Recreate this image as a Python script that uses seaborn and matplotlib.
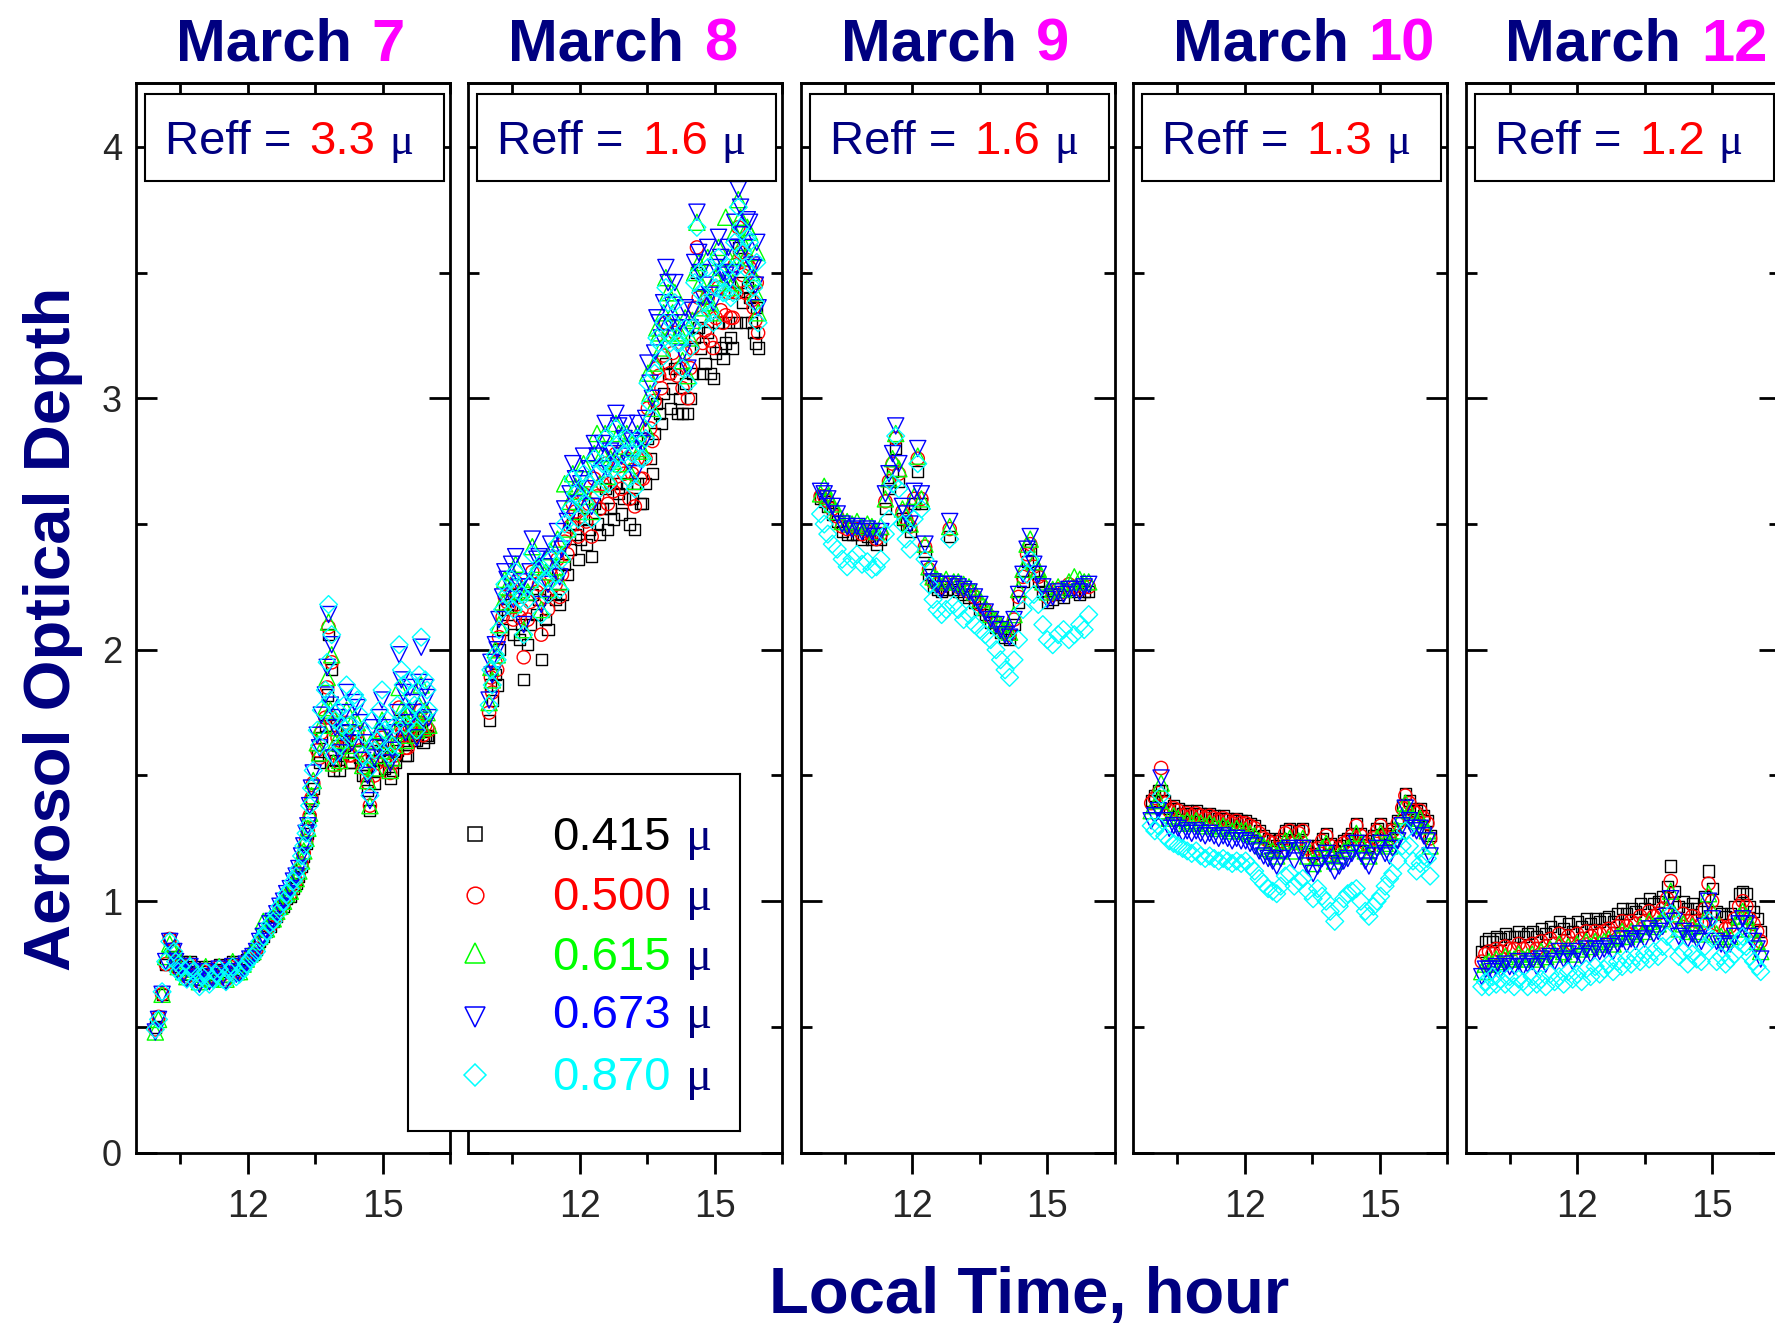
import matplotlib
matplotlib.use("Agg")
import matplotlib.pyplot as plt
from matplotlib.patches import Rectangle
from matplotlib.ticker import FixedLocator, MultipleLocator
import seaborn as sns

# ---------------------------------------------------------------- data
days = ["7", "8", "9", "10", "12"]
reff_values = ["3.3", "1.6", "1.6", "1.3", "1.2"]
wavelengths = ["0.415", "0.500", "0.615", "0.673", "0.870"]
x_major_ticks = [12, 15]
x_minor_ticks = [10.5, 13.5, 16.5]

# March 7
hours_mar07 = [9.95, 10.02, 10.10, 10.18, 10.27, 10.36, 10.40, 10.46, 10.52, 10.58,
               10.65, 10.72, 10.79, 10.86, 10.93, 11.00, 11.07, 11.15, 11.22, 11.30,
               11.37, 11.45, 11.52, 11.60, 11.67, 11.75, 11.82, 11.90, 11.97, 12.05,
               12.12, 12.20, 12.27, 12.35, 12.42, 12.50, 12.57, 12.65, 12.72, 12.80,
               12.87, 12.95, 13.02, 13.08, 13.14, 13.20, 13.25, 13.30, 13.34, 13.38,
               13.42, 13.46, 13.55, 13.60, 13.64, 13.73, 13.77, 13.80, 13.84, 13.87,
               13.91, 13.95, 14.00, 14.05, 14.10, 14.15, 14.20, 14.26, 14.32, 14.38,
               14.44, 14.50, 14.56, 14.62, 14.67, 14.72, 14.77, 14.82, 14.88, 14.93,
               14.99, 15.05, 15.11, 15.17, 15.22, 15.28, 15.33, 15.37, 15.42, 15.46,
               15.51, 15.56, 15.61, 15.66, 15.71, 15.76, 15.81, 15.86, 15.90, 15.95,
               15.99, 16.03]
aod415_mar07 = [0.50, 0.54, 0.63, 0.75, 0.85, 0.81, 0.78, 0.74, 0.76, 0.73,
                0.71, 0.76, 0.74, 0.72, 0.69, 0.72, 0.74, 0.71, 0.71, 0.73,
                0.75, 0.72, 0.70, 0.75, 0.76, 0.73, 0.73, 0.75, 0.77, 0.78,
                0.79, 0.81, 0.84, 0.86, 0.88, 0.90, 0.92, 0.94, 0.97, 0.98,
                1.01, 1.02, 1.05, 1.07, 1.10, 1.14, 1.18, 1.23, 1.27, 1.33,
                1.40, 1.45, 1.58, 1.55, 1.65, 1.70, 1.82, 2.06, 1.70, 1.92,
                1.52, 1.56, 1.62, 1.52, 1.58, 1.62, 1.68, 1.55, 1.55, 1.64,
                1.64, 1.57, 1.50, 1.50, 1.44, 1.36, 1.56, 1.47, 1.52, 1.60,
                1.62, 1.53, 1.56, 1.49, 1.52, 1.55, 1.60, 1.72, 1.66, 1.64,
                1.58, 1.58, 1.66, 1.65, 1.64, 1.64, 1.68, 1.70, 1.63, 1.66,
                1.66, 1.65]
aod500_mar07 = [0.49, 0.54, 0.63, 0.75, 0.85, 0.81, 0.77, 0.73, 0.75, 0.72,
                0.70, 0.75, 0.73, 0.71, 0.68, 0.72, 0.73, 0.70, 0.70, 0.72,
                0.74, 0.71, 0.69, 0.74, 0.75, 0.72, 0.72, 0.74, 0.76, 0.78,
                0.79, 0.81, 0.84, 0.86, 0.88, 0.90, 0.92, 0.94, 0.97, 0.99,
                1.02, 1.03, 1.06, 1.08, 1.11, 1.15, 1.19, 1.24, 1.28, 1.34,
                1.41, 1.47, 1.60, 1.57, 1.67, 1.73, 1.85, 2.09, 1.73, 1.95,
                1.54, 1.59, 1.65, 1.55, 1.61, 1.65, 1.71, 1.58, 1.58, 1.67,
                1.67, 1.60, 1.53, 1.53, 1.47, 1.38, 1.59, 1.50, 1.55, 1.63,
                1.65, 1.56, 1.59, 1.51, 1.55, 1.58, 1.63, 1.77, 1.69, 1.68,
                1.61, 1.61, 1.69, 1.69, 1.67, 1.66, 1.71, 1.76, 1.66, 1.70,
                1.69, 1.68]
aod615_mar07 = [0.48, 0.53, 0.63, 0.78, 0.83, 0.81, 0.77, 0.74, 0.76, 0.72,
                0.70, 0.75, 0.73, 0.70, 0.68, 0.71, 0.74, 0.69, 0.70, 0.72,
                0.74, 0.71, 0.69, 0.74, 0.76, 0.72, 0.72, 0.75, 0.77, 0.79,
                0.80, 0.84, 0.86, 0.92, 0.89, 0.93, 0.93, 0.96, 0.98, 1.00,
                1.03, 1.04, 1.07, 1.09, 1.12, 1.16, 1.20, 1.25, 1.29, 1.35,
                1.42, 1.48, 1.63, 1.59, 1.70, 1.77, 1.89, 2.11, 1.76, 1.98,
                1.55, 1.63, 1.69, 1.56, 1.64, 1.70, 1.76, 1.62, 1.60, 1.73,
                1.71, 1.65, 1.54, 1.58, 1.48, 1.38, 1.64, 1.53, 1.58, 1.68,
                1.72, 1.60, 1.64, 1.52, 1.57, 1.62, 1.68, 1.85, 1.76, 1.74,
                1.64, 1.66, 1.76, 1.73, 1.71, 1.68, 1.78, 1.86, 1.69, 1.76,
                1.75, 1.70]
aod673_mar07 = [0.48, 0.53, 0.63, 0.76, 0.84, 0.80, 0.76, 0.72, 0.74, 0.71,
                0.69, 0.74, 0.72, 0.69, 0.67, 0.70, 0.72, 0.68, 0.69, 0.71,
                0.73, 0.70, 0.68, 0.72, 0.74, 0.71, 0.71, 0.73, 0.75, 0.77,
                0.78, 0.80, 0.84, 0.86, 0.88, 0.91, 0.92, 0.95, 0.98, 1.00,
                1.03, 1.05, 1.08, 1.10, 1.13, 1.18, 1.22, 1.27, 1.30, 1.38,
                1.45, 1.51, 1.66, 1.61, 1.74, 1.82, 1.93, 2.14, 1.78, 2.02,
                1.57, 1.69, 1.73, 1.59, 1.67, 1.75, 1.83, 1.67, 1.63, 1.79,
                1.77, 1.71, 1.56, 1.63, 1.50, 1.40, 1.69, 1.57, 1.61, 1.73,
                1.80, 1.65, 1.69, 1.55, 1.60, 1.67, 1.75, 1.98, 1.88, 1.83,
                1.67, 1.71, 1.85, 1.79, 1.75, 1.65, 1.87, 2.01, 1.72, 1.85,
                1.81, 1.73]
aod870_mar07 = [0.49, 0.53, 0.64, 0.76, 0.84, 0.80, 0.76, 0.72, 0.74, 0.70,
                0.69, 0.74, 0.72, 0.68, 0.66, 0.70, 0.72, 0.67, 0.69, 0.71,
                0.73, 0.69, 0.68, 0.72, 0.74, 0.70, 0.71, 0.73, 0.75, 0.77,
                0.78, 0.80, 0.84, 0.86, 0.88, 0.91, 0.92, 0.95, 0.98, 1.00,
                1.03, 1.05, 1.08, 1.10, 1.13, 1.18, 1.22, 1.27, 1.30, 1.38,
                1.45, 1.52, 1.68, 1.62, 1.76, 1.84, 1.95, 2.18, 1.80, 2.06,
                1.58, 1.72, 1.76, 1.62, 1.70, 1.78, 1.86, 1.70, 1.66, 1.82,
                1.80, 1.74, 1.58, 1.66, 1.52, 1.42, 1.72, 1.60, 1.64, 1.76,
                1.84, 1.68, 1.72, 1.58, 1.62, 1.70, 1.78, 2.02, 1.92, 1.86,
                1.70, 1.74, 1.88, 1.82, 1.78, 1.68, 1.90, 2.05, 1.74, 1.88,
                1.84, 1.76]

# March 8
hours_mar08 = [9.98, 10.02, 10.05, 10.12, 10.16, 10.20, 10.28, 10.33, 10.38, 10.48,
               10.52, 10.57, 10.66, 10.70, 10.75, 10.84, 10.89, 10.94, 11.04, 11.09,
               11.14, 11.24, 11.29, 11.35, 11.46, 11.50, 11.55, 11.60, 11.66, 11.72,
               11.78, 11.84, 11.90, 11.96, 12.02, 12.08, 12.14, 12.20, 12.26, 12.32,
               12.38, 12.44, 12.50, 12.56, 12.62, 12.68, 12.74, 12.80, 12.86, 12.92,
               12.98, 13.04, 13.10, 13.16, 13.22, 13.28, 13.34, 13.40, 13.46, 13.51,
               13.56, 13.61, 13.66, 13.71, 13.76, 13.81, 13.86, 13.91, 13.96, 14.01,
               14.06, 14.11, 14.16, 14.22, 14.28, 14.34, 14.40, 14.45, 14.50, 14.55,
               14.60, 14.64, 14.68, 14.73, 14.78, 14.84, 14.90, 14.96, 15.02, 15.08,
               15.13, 15.18, 15.24, 15.30, 15.35, 15.40, 15.44, 15.48, 15.52, 15.57,
               15.62, 15.67, 15.72, 15.77, 15.82, 15.86, 15.90, 15.93, 15.96]
aod415_mar08 = [1.72, 1.86, 1.80, 1.90, 1.86, 2.00, 2.08, 2.16, 2.14, 2.18,
                2.06, 2.22, 2.04, 2.10, 1.88, 2.02, 2.10, 2.22, 2.14, 2.20,
                1.96, 2.12, 2.08, 2.22, 2.20, 2.30, 2.18, 2.22, 2.34, 2.30,
                2.40, 2.50, 2.46, 2.36, 2.44, 2.52, 2.42, 2.48, 2.37, 2.58,
                2.50, 2.46, 2.56, 2.64, 2.48, 2.56, 2.52, 2.66, 2.62, 2.54,
                2.60, 2.66, 2.50, 2.60, 2.48, 2.66, 2.58, 2.58, 2.66, 2.84,
                2.76, 2.70, 2.86, 2.98, 2.94, 2.90, 3.02, 3.14, 3.10, 2.96,
                3.04, 3.12, 2.94, 3.00, 2.94, 3.06, 2.94, 3.00, 3.10, 3.24,
                3.50, 3.28, 3.20, 3.10, 3.14, 3.26, 3.10, 3.08, 3.18, 3.30,
                3.20, 3.16, 3.22, 3.30, 3.24, 3.20, 3.42, 3.30, 3.60, 3.46,
                3.38, 3.30, 3.44, 3.40, 3.30, 3.26, 3.22, 3.36, 3.20]
aod500_mar08 = [1.75, 1.89, 1.83, 1.95, 1.92, 2.05, 2.13, 2.21, 2.19, 2.24,
                2.12, 2.27, 2.13, 2.16, 1.97, 2.12, 2.19, 2.31, 2.23, 2.26,
                2.06, 2.21, 2.16, 2.30, 2.26, 2.36, 2.21, 2.30, 2.43, 2.38,
                2.49, 2.58, 2.55, 2.45, 2.53, 2.62, 2.51, 2.58, 2.45, 2.68,
                2.61, 2.56, 2.66, 2.74, 2.58, 2.66, 2.63, 2.78, 2.73, 2.64,
                2.70, 2.76, 2.60, 2.70, 2.57, 2.76, 2.68, 2.68, 2.76, 2.96,
                2.88, 2.83, 2.99, 3.12, 3.09, 3.04, 3.17, 3.30, 3.25, 3.10,
                3.18, 3.26, 3.09, 3.12, 3.04, 3.18, 3.00, 3.12, 3.20, 3.36,
                3.60, 3.40, 3.32, 3.22, 3.27, 3.40, 3.23, 3.20, 3.32, 3.44,
                3.35, 3.30, 3.33, 3.42, 3.32, 3.32, 3.53, 3.42, 3.68, 3.58,
                3.49, 3.42, 3.55, 3.52, 3.39, 3.36, 3.31, 3.46, 3.26]
aod615_mar08 = [1.79, 1.93, 1.88, 2.00, 1.98, 2.10, 2.19, 2.28, 2.25, 2.31,
                2.18, 2.34, 2.23, 2.24, 2.08, 2.23, 2.28, 2.41, 2.33, 2.34,
                2.16, 2.31, 2.24, 2.39, 2.33, 2.44, 2.27, 2.38, 2.66, 2.48,
                2.59, 2.70, 2.65, 2.55, 2.63, 2.74, 2.61, 2.68, 2.55, 2.78,
                2.86, 2.66, 2.78, 2.86, 2.69, 2.76, 2.75, 2.90, 2.86, 2.74,
                2.81, 2.86, 2.71, 2.80, 2.67, 2.86, 2.80, 2.79, 2.88, 3.10,
                3.02, 2.96, 3.14, 3.28, 3.26, 3.20, 3.34, 3.48, 3.42, 3.26,
                3.34, 3.42, 3.25, 3.26, 3.15, 3.32, 3.09, 3.24, 3.31, 3.50,
                3.70, 3.54, 3.46, 3.36, 3.41, 3.56, 3.38, 3.34, 3.48, 3.60,
                3.52, 3.46, 3.72, 3.56, 3.44, 3.46, 3.66, 3.56, 3.79, 3.72,
                3.62, 3.56, 3.68, 3.66, 3.50, 3.48, 3.42, 3.58, 3.34]
aod673_mar08 = [1.80, 1.95, 1.90, 2.02, 2.00, 2.12, 2.21, 2.31, 2.28, 2.34,
                2.20, 2.37, 2.25, 2.27, 2.10, 2.25, 2.31, 2.44, 2.36, 2.37,
                2.18, 2.33, 2.26, 2.42, 2.36, 2.47, 2.29, 2.40, 2.56, 2.51,
                2.62, 2.74, 2.68, 2.58, 2.66, 2.77, 2.64, 2.72, 2.57, 2.82,
                2.77, 2.70, 2.82, 2.90, 2.72, 2.79, 2.78, 2.94, 2.89, 2.77,
                2.84, 2.90, 2.74, 2.83, 2.70, 2.90, 2.83, 2.82, 2.92, 3.14,
                3.06, 3.00, 3.18, 3.32, 3.30, 3.24, 3.38, 3.52, 3.46, 3.30,
                3.37, 3.46, 3.28, 3.30, 3.18, 3.36, 3.12, 3.28, 3.35, 3.54,
                3.74, 3.58, 3.50, 3.40, 3.45, 3.60, 3.41, 3.38, 3.52, 3.64,
                3.56, 3.50, 3.49, 3.60, 3.47, 3.50, 3.70, 3.60, 3.83, 3.76,
                3.65, 3.60, 3.71, 3.70, 3.53, 3.52, 3.45, 3.62, 3.36]
aod870_mar08 = [1.78, 1.92, 1.86, 1.98, 1.96, 2.08, 2.16, 2.26, 2.22, 2.28,
                2.16, 2.31, 2.20, 2.22, 2.06, 2.20, 2.26, 2.38, 2.30, 2.32,
                2.14, 2.28, 2.22, 2.36, 2.30, 2.42, 2.24, 2.36, 2.50, 2.46,
                2.56, 2.68, 2.62, 2.52, 2.60, 2.70, 2.58, 2.66, 2.52, 2.76,
                2.70, 2.64, 2.74, 2.84, 2.66, 2.74, 2.72, 2.88, 2.82, 2.72,
                2.78, 2.84, 2.68, 2.78, 2.64, 2.84, 2.76, 2.76, 2.84, 3.06,
                2.98, 2.92, 3.10, 3.24, 3.22, 3.16, 3.30, 3.44, 3.38, 3.22,
                3.30, 3.38, 3.22, 3.22, 3.12, 3.28, 3.06, 3.20, 3.28, 3.46,
                3.68, 3.50, 3.42, 3.32, 3.38, 3.52, 3.34, 3.30, 3.44, 3.56,
                3.48, 3.42, 3.42, 3.52, 3.40, 3.42, 3.62, 3.52, 3.76, 3.68,
                3.58, 3.52, 3.64, 3.62, 3.46, 3.44, 3.38, 3.54, 3.30]

# March 9
hours_mar09 = [9.96, 10.04, 10.12, 10.22, 10.33, 10.44, 10.55, 10.66, 10.77, 10.88,
               11.00, 11.10, 11.20, 11.30, 11.40, 11.48, 11.56, 11.63, 11.70, 11.78,
               11.86, 11.95, 12.04, 12.12, 12.20, 12.28, 12.37, 12.46, 12.55, 12.65,
               12.75, 12.83, 12.92, 13.02, 13.14, 13.26, 13.38, 13.50, 13.62, 13.74,
               13.86, 13.96, 14.06, 14.16, 14.26, 14.36, 14.46, 14.55, 14.62, 14.70,
               14.80, 14.90, 15.00, 15.12, 15.24, 15.36, 15.48, 15.60, 15.72, 15.82,
               15.92]
aod415_mar09 = [2.60, 2.59, 2.57, 2.54, 2.51, 2.47, 2.46, 2.46, 2.46, 2.44,
                2.45, 2.44, 2.42, 2.44, 2.56, 2.64, 2.71, 2.80, 2.67, 2.52,
                2.50, 2.47, 2.58, 2.71, 2.58, 2.39, 2.30, 2.25, 2.24, 2.23,
                2.24, 2.45, 2.24, 2.23, 2.22, 2.21, 2.19, 2.16, 2.14, 2.11,
                2.09, 2.07, 2.05, 2.04, 2.10, 2.19, 2.27, 2.35, 2.40, 2.31,
                2.27, 2.23, 2.19, 2.20, 2.22, 2.21, 2.24, 2.23, 2.22, 2.23,
                2.23]
aod500_mar09 = [2.61, 2.61, 2.59, 2.56, 2.53, 2.49, 2.48, 2.48, 2.48, 2.46,
                2.47, 2.46, 2.44, 2.46, 2.59, 2.67, 2.74, 2.84, 2.70, 2.55,
                2.52, 2.49, 2.60, 2.76, 2.60, 2.41, 2.32, 2.27, 2.26, 2.25,
                2.26, 2.48, 2.26, 2.25, 2.24, 2.23, 2.21, 2.18, 2.16, 2.13,
                2.11, 2.09, 2.07, 2.06, 2.12, 2.21, 2.29, 2.38, 2.42, 2.33,
                2.29, 2.25, 2.21, 2.22, 2.24, 2.23, 2.26, 2.25, 2.24, 2.25,
                2.25]
aod615_mar09 = [2.62, 2.65, 2.61, 2.58, 2.55, 2.51, 2.51, 2.50, 2.51, 2.49,
                2.50, 2.49, 2.47, 2.49, 2.60, 2.68, 2.76, 2.86, 2.72, 2.56,
                2.53, 2.50, 2.61, 2.77, 2.60, 2.42, 2.33, 2.29, 2.28, 2.27,
                2.28, 2.49, 2.27, 2.27, 2.26, 2.25, 2.23, 2.20, 2.17, 2.14,
                2.12, 2.10, 2.08, 2.07, 2.14, 2.24, 2.32, 2.42, 2.44, 2.35,
                2.32, 2.27, 2.23, 2.24, 2.25, 2.24, 2.27, 2.29, 2.28, 2.27,
                2.27]
aod673_mar09 = [2.63, 2.62, 2.60, 2.57, 2.54, 2.50, 2.49, 2.48, 2.49, 2.47,
                2.48, 2.47, 2.45, 2.47, 2.62, 2.70, 2.78, 2.89, 2.74, 2.57,
                2.54, 2.50, 2.63, 2.80, 2.62, 2.42, 2.32, 2.27, 2.26, 2.24,
                2.26, 2.51, 2.26, 2.25, 2.24, 2.23, 2.21, 2.18, 2.15, 2.12,
                2.10, 2.08, 2.06, 2.05, 2.12, 2.22, 2.30, 2.40, 2.45, 2.34,
                2.30, 2.25, 2.20, 2.21, 2.23, 2.22, 2.24, 2.24, 2.23, 2.25,
                2.26]
aod870_mar09 = [2.54, 2.50, 2.46, 2.42, 2.40, 2.36, 2.33, 2.36, 2.38, 2.34,
                2.35, 2.32, 2.33, 2.36, 2.46, 2.52, 2.66, 2.85, 2.64, 2.50,
                2.44, 2.40, 2.52, 2.74, 2.56, 2.36, 2.26, 2.20, 2.16, 2.14,
                2.16, 2.44, 2.18, 2.16, 2.12, 2.14, 2.10, 2.08, 2.06, 2.04,
                2.00, 1.96, 1.92, 1.89, 1.96, 2.04, 2.16, 2.30, 2.36, 2.22,
                2.18, 2.10, 2.04, 2.02, 2.06, 2.08, 2.04, 2.06, 2.10, 2.08,
                2.14]

# March 10
hours_mar10 = [9.92, 10.00, 10.08, 10.14, 10.22, 10.32, 10.42, 10.52, 10.62, 10.72,
               10.82, 10.92, 11.02, 11.12, 11.22, 11.32, 11.42, 11.52, 11.62, 11.72,
               11.82, 11.92, 12.02, 12.12, 12.22, 12.32, 12.42, 12.52, 12.62, 12.71,
               12.80, 12.90, 13.00, 13.10, 13.20, 13.29, 13.40, 13.52, 13.62, 13.72,
               13.81, 13.90, 14.00, 14.10, 14.20, 14.29, 14.38, 14.48, 14.58, 14.68,
               14.76, 14.86, 14.94, 15.02, 15.12, 15.22, 15.29, 15.40, 15.50, 15.57,
               15.66, 15.74, 15.82, 15.90, 15.98, 16.06, 16.12]
aod415_mar10 = [1.40, 1.42, 1.44, 1.44, 1.40, 1.37, 1.38, 1.37, 1.35, 1.36,
                1.35, 1.36, 1.35, 1.34, 1.35, 1.34, 1.33, 1.34, 1.33, 1.32,
                1.33, 1.32, 1.32, 1.31, 1.30, 1.28, 1.26, 1.25, 1.24, 1.22,
                1.25, 1.28, 1.29, 1.24, 1.28, 1.29, 1.22, 1.19, 1.22, 1.25,
                1.27, 1.23, 1.20, 1.22, 1.24, 1.25, 1.27, 1.31, 1.27, 1.24,
                1.22, 1.26, 1.29, 1.31, 1.27, 1.26, 1.29, 1.32, 1.38, 1.43,
                1.40, 1.37, 1.36, 1.37, 1.34, 1.32, 1.26]
aod500_mar10 = [1.39, 1.41, 1.43, 1.53, 1.39, 1.36, 1.37, 1.36, 1.34, 1.35,
                1.34, 1.35, 1.34, 1.33, 1.34, 1.33, 1.32, 1.33, 1.32, 1.31,
                1.32, 1.31, 1.31, 1.30, 1.29, 1.27, 1.25, 1.24, 1.23, 1.21,
                1.24, 1.27, 1.28, 1.23, 1.27, 1.28, 1.21, 1.18, 1.21, 1.24,
                1.26, 1.22, 1.19, 1.21, 1.23, 1.24, 1.26, 1.30, 1.26, 1.23,
                1.21, 1.25, 1.28, 1.30, 1.26, 1.25, 1.28, 1.31, 1.37, 1.42,
                1.39, 1.36, 1.35, 1.36, 1.33, 1.31, 1.25]
aod615_mar10 = [1.36, 1.38, 1.40, 1.47, 1.36, 1.33, 1.34, 1.33, 1.31, 1.32,
                1.31, 1.32, 1.31, 1.30, 1.31, 1.30, 1.29, 1.30, 1.29, 1.28,
                1.29, 1.28, 1.28, 1.27, 1.26, 1.24, 1.22, 1.21, 1.20, 1.18,
                1.21, 1.24, 1.25, 1.20, 1.24, 1.25, 1.18, 1.15, 1.18, 1.21,
                1.23, 1.19, 1.16, 1.18, 1.20, 1.21, 1.23, 1.27, 1.23, 1.20,
                1.18, 1.22, 1.25, 1.27, 1.23, 1.22, 1.25, 1.28, 1.34, 1.39,
                1.36, 1.33, 1.32, 1.33, 1.30, 1.28, 1.22]
aod673_mar10 = [1.32, 1.34, 1.36, 1.49, 1.32, 1.29, 1.30, 1.29, 1.27, 1.28,
                1.27, 1.28, 1.27, 1.26, 1.27, 1.26, 1.25, 1.26, 1.25, 1.24,
                1.25, 1.24, 1.24, 1.23, 1.22, 1.20, 1.18, 1.17, 1.16, 1.14,
                1.17, 1.20, 1.21, 1.16, 1.20, 1.21, 1.14, 1.11, 1.14, 1.17,
                1.19, 1.15, 1.12, 1.14, 1.16, 1.17, 1.19, 1.23, 1.19, 1.16,
                1.14, 1.18, 1.21, 1.23, 1.19, 1.18, 1.21, 1.24, 1.30, 1.37,
                1.32, 1.29, 1.28, 1.29, 1.26, 1.24, 1.18]
aod870_mar10 = [1.30, 1.28, 1.30, 1.42, 1.26, 1.24, 1.23, 1.22, 1.21, 1.20,
                1.19, 1.20, 1.18, 1.17, 1.18, 1.17, 1.16, 1.17, 1.16, 1.15,
                1.16, 1.15, 1.16, 1.14, 1.12, 1.09, 1.07, 1.05, 1.04, 1.03,
                1.06, 1.10, 1.11, 1.06, 1.08, 1.09, 1.04, 1.01, 1.05, 1.02,
                1.00, 0.96, 0.92, 0.98, 1.01, 1.03, 1.04, 1.05, 1.00, 0.96,
                0.94, 0.98, 1.00, 1.02, 1.06, 1.09, 1.11, 1.16, 1.22, 1.28,
                1.22, 1.16, 1.12, 1.15, 1.18, 1.17, 1.10]

# March 12
hours_mar12 = [9.88, 9.96, 10.04, 10.12, 10.20, 10.30, 10.40, 10.50, 10.60, 10.70,
               10.80, 10.90, 11.00, 11.10, 11.20, 11.30, 11.40, 11.50, 11.60, 11.70,
               11.80, 11.90, 12.00, 12.10, 12.20, 12.30, 12.40, 12.50, 12.60, 12.70,
               12.80, 12.90, 13.00, 13.10, 13.20, 13.30, 13.40, 13.50, 13.60, 13.70,
               13.80, 13.90, 14.00, 14.08, 14.16, 14.26, 14.36, 14.46, 14.56, 14.66,
               14.76, 14.84, 14.92, 15.00, 15.10, 15.20, 15.30, 15.40, 15.50, 15.60,
               15.68, 15.76, 15.84, 15.92, 16.00, 16.08]
aod415_mar12 = [0.80, 0.84, 0.85, 0.84, 0.86, 0.85, 0.87, 0.86, 0.86, 0.88,
                0.86, 0.87, 0.88, 0.86, 0.89, 0.87, 0.90, 0.88, 0.92, 0.89,
                0.91, 0.88, 0.92, 0.90, 0.93, 0.91, 0.93, 0.92, 0.93, 0.94,
                0.92, 0.95, 0.97, 0.95, 0.97, 0.96, 0.99, 0.97, 1.01, 0.99,
                1.00, 1.02, 1.06, 1.14, 1.04, 0.98, 1.00, 0.97, 0.99, 0.97,
                0.96, 1.02, 1.12, 1.05, 0.96, 0.95, 0.94, 0.95, 0.98, 1.03,
                1.04, 1.03, 0.98, 0.96, 0.93, 0.88]
aod500_mar12 = [0.76, 0.79, 0.80, 0.79, 0.81, 0.80, 0.82, 0.81, 0.81, 0.83,
                0.81, 0.82, 0.83, 0.81, 0.84, 0.82, 0.85, 0.83, 0.87, 0.84,
                0.86, 0.83, 0.87, 0.85, 0.88, 0.86, 0.88, 0.87, 0.88, 0.89,
                0.87, 0.90, 0.92, 0.90, 0.92, 0.91, 0.94, 0.92, 0.96, 0.94,
                0.95, 0.97, 1.01, 1.08, 0.99, 0.93, 0.95, 0.92, 0.94, 0.92,
                0.91, 0.97, 1.07, 1.00, 0.91, 0.90, 0.89, 0.90, 0.93, 0.98,
                1.00, 0.98, 0.93, 0.91, 0.88, 0.84]
aod615_mar12 = [0.72, 0.75, 0.76, 0.75, 0.77, 0.76, 0.78, 0.77, 0.77, 0.79,
                0.77, 0.78, 0.79, 0.77, 0.80, 0.78, 0.81, 0.79, 0.83, 0.80,
                0.82, 0.79, 0.83, 0.81, 0.84, 0.82, 0.84, 0.83, 0.84, 0.85,
                0.83, 0.86, 0.88, 0.86, 0.88, 0.87, 0.90, 0.88, 0.92, 0.90,
                0.91, 0.93, 0.97, 1.04, 0.95, 0.89, 0.91, 0.88, 0.90, 0.88,
                0.87, 0.93, 1.03, 0.96, 0.87, 0.86, 0.85, 0.86, 0.89, 0.94,
                0.96, 0.94, 0.89, 0.87, 0.84, 0.80]
aod673_mar12 = [0.70, 0.73, 0.73, 0.72, 0.74, 0.73, 0.75, 0.74, 0.74, 0.76,
                0.74, 0.75, 0.76, 0.74, 0.77, 0.75, 0.78, 0.76, 0.80, 0.77,
                0.79, 0.76, 0.80, 0.78, 0.81, 0.79, 0.81, 0.80, 0.81, 0.82,
                0.80, 0.83, 0.85, 0.83, 0.85, 0.84, 0.87, 0.85, 0.89, 0.87,
                0.88, 0.90, 0.94, 1.01, 0.92, 0.86, 0.88, 0.85, 0.87, 0.85,
                0.84, 0.90, 1.00, 0.93, 0.84, 0.83, 0.82, 0.83, 0.86, 0.91,
                0.93, 0.91, 0.86, 0.84, 0.81, 0.77]
aod870_mar12 = [0.66, 0.68, 0.66, 0.70, 0.67, 0.69, 0.67, 0.70, 0.66, 0.69,
                0.68, 0.66, 0.70, 0.67, 0.69, 0.66, 0.71, 0.68, 0.70, 0.67,
                0.72, 0.69, 0.71, 0.68, 0.73, 0.70, 0.74, 0.71, 0.73, 0.75,
                0.72, 0.76, 0.74, 0.77, 0.75, 0.78, 0.76, 0.79, 0.77, 0.80,
                0.78, 0.82, 0.86, 0.95, 0.84, 0.78, 0.80, 0.75, 0.79, 0.77,
                0.76, 0.82, 0.92, 0.85, 0.76, 0.78, 0.75, 0.77, 0.79, 0.84,
                0.86, 0.82, 0.78, 0.76, 0.74, 0.72]

panels = [
    (hours_mar07, [aod415_mar07, aod500_mar07, aod615_mar07, aod673_mar07, aod870_mar07]),
    (hours_mar08, [aod415_mar08, aod500_mar08, aod615_mar08, aod673_mar08, aod870_mar08]),
    (hours_mar09, [aod415_mar09, aod500_mar09, aod615_mar09, aod673_mar09, aod870_mar09]),
    (hours_mar10, [aod415_mar10, aod500_mar10, aod615_mar10, aod673_mar10, aod870_mar10]),
    (hours_mar12, [aod415_mar12, aod500_mar12, aod615_mar12, aod673_mar12, aod870_mar12]),
]

# ---------------------------------------------------------------- style
sns.set_style("white")
plt.rcParams["font.family"] = ["Liberation Sans", "DejaVu Sans"]
SERIF = ["Liberation Serif", "DejaVu Serif"]

NAVY = "#000080"
MAGENTA = "#FF00FF"
RED = "#FF0000"
series_colors = ["#000000", "#FF0000", "#00FF00", "#0000FF", "#00FFFF"]
series_markers = ["s", "o", "^", "v", "D"]
series_sizes = [64, 90, 135, 135, 82]
legend_ms = [9.6, 12, 15, 15, 11.2]

W, H = 1775, 1327
fig = plt.figure(figsize=(W / 100, H / 100), dpi=100)
fig.patch.set_facecolor("white")

AX_W, AX_H = 314, 1070
AX_BOTTOM = 1152.7

for i, (hours, series) in enumerate(panels):
    left = 136 + i * 332.4
    ax = fig.add_axes([left / W, (H - AX_BOTTOM) / H, AX_W / W, AX_H / H])
    ax.set_facecolor("white")

    for vals, c, m, s in zip(series, series_colors, series_markers, series_sizes):
        sns.scatterplot(x=hours, y=vals, ax=ax, marker=m, s=s, color=c,
                        facecolors="none", edgecolor=c, linewidth=1.0,
                        legend=False, zorder=3)

    ax.set_xlim(9.52, 16.5)
    ax.set_ylim(0, 4.255)
    ax.set_xlabel("")
    ax.set_ylabel("")

    for sp in ax.spines.values():
        sp.set_visible(True)
        sp.set_linewidth(2)
        sp.set_color("black")

    ax.xaxis.set_major_locator(FixedLocator(x_major_ticks))
    ax.xaxis.set_minor_locator(FixedLocator(x_minor_ticks))
    ax.yaxis.set_major_locator(MultipleLocator(1))
    ax.yaxis.set_minor_locator(MultipleLocator(0.5))

    ax.tick_params(axis="x", which="both", direction="out", bottom=True, top=False,
                   width=2, color="black", labelsize=27, pad=11)
    ax.tick_params(axis="x", which="major", length=15)
    ax.tick_params(axis="x", which="minor", length=8)
    ax.tick_params(axis="y", which="both", direction="in", left=True, right=True,
                   width=2, color="black", labelsize=26, pad=10,
                   labelleft=(i == 0))
    ax.tick_params(axis="y", which="major", length=15)
    ax.tick_params(axis="y", which="minor", length=8)

    top = ax.secondary_xaxis("top")
    top.xaxis.set_major_locator(FixedLocator(x_major_ticks))
    top.xaxis.set_minor_locator(FixedLocator(x_minor_ticks))
    top.tick_params(which="both", direction="in", width=2, color="black", labeltop=False)
    top.tick_params(which="major", length=15)
    top.tick_params(which="minor", length=8)
    top.spines["top"].set_linewidth(2)

    # date heading
    t_month = ax.text(0.127, 1.0203, "March", transform=ax.transAxes, fontsize=43,
                      fontweight="bold", color=NAVY, ha="left", va="baseline")
    ax.annotate(days[i], xy=(1, 1.0203), xycoords=(t_month, ax.transAxes),
                xytext=(14, 0), textcoords="offset points", fontsize=43,
                fontweight="bold", color=MAGENTA, ha="left", va="baseline")

    # effective radius box
    ax.add_patch(Rectangle((0.0287, 0.9081), 0.952, 0.0813, transform=ax.transAxes,
                           facecolor="white", edgecolor="black", linewidth=1.5,
                           zorder=6, clip_on=False))
    yb = 0.9334
    t_reff = ax.text(0.0925, yb, "Reff =", transform=ax.transAxes, fontsize=34,
                     color=NAVY, ha="left", va="baseline", zorder=7)
    t_val = ax.annotate(reff_values[i], xy=(1, yb), xycoords=(t_reff, ax.transAxes),
                        xytext=(13, 0), textcoords="offset points", fontsize=34,
                        color=RED, ha="left", va="baseline", zorder=7)
    ax.annotate("\u03bc", xy=(1, yb), xycoords=(t_val, ax.transAxes),
                xytext=(10, 0), textcoords="offset points", fontsize=32,
                family=SERIF, color=NAVY, ha="left", va="baseline", zorder=7)

# ---------------------------------------------------------------- legend
lax = fig.add_axes([408 / W, (H - 1131) / H, 332 / W, 357 / H])
lax.set_zorder(10)
lax.set_facecolor("white")
lax.set_xlim(0, 1)
lax.set_ylim(0, 1)
lax.set_xticks([])
lax.set_yticks([])
for sp in lax.spines.values():
    sp.set_visible(True)
    sp.set_linewidth(1.5)
    sp.set_color("black")

marker_rows = [0.832, 0.661, 0.499, 0.319, 0.157]
text_rows = [0.787, 0.619, 0.451, 0.289, 0.115]
for wl, c, m, ms, ym, yt in zip(wavelengths, series_colors, series_markers,
                                legend_ms, marker_rows, text_rows):
    lax.plot([0.202], [ym], linestyle="none", marker=m, markersize=ms,
             markerfacecolor="none", markeredgecolor=c, markeredgewidth=1.1)
    lax.text(0.434, yt, wl, color=c, fontsize=34, ha="left", va="baseline")
    lax.text(0.838, yt, "\u03bc", color=NAVY, fontsize=35, family=SERIF,
             ha="left", va="baseline")

# ---------------------------------------------------------------- axis titles
fig.text(70 / W, 0.5262, "Aerosol Optical Depth", rotation=90, rotation_mode="anchor",
         ha="center", va="baseline", fontsize=47, fontweight="bold", color=NAVY)
fig.text(1029 / W, 14 / H, "Local Time, hour", ha="center", va="baseline",
         fontsize=47, fontweight="bold", color=NAVY)

fig.savefig("out.png", dpi=100, facecolor="white")
